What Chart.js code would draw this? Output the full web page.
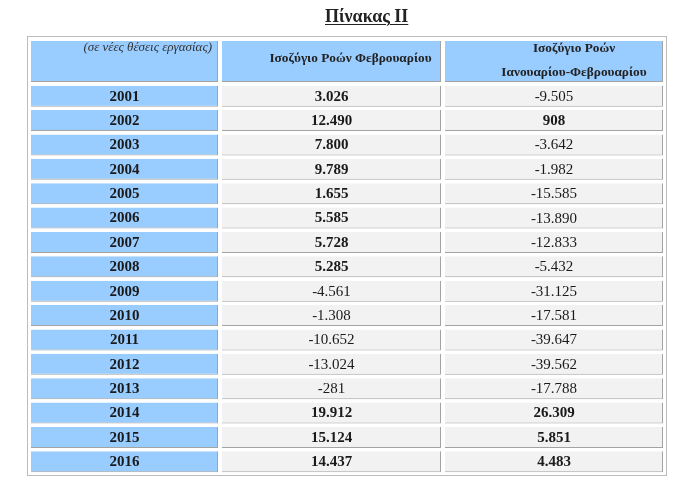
<!DOCTYPE html>
<html lang="el">
<head>
<meta charset="utf-8">
<title>Πίνακας ΙΙ</title>
<script src="https://cdn.jsdelivr.net/npm/chart.js@4.4.1/dist/chart.umd.min.js"></script>
<style>
    body { margin: 0; background: #fff; }
    #wrap { position: relative; width: 684px; height: 481px; }
    #title {
        position: absolute; left: 325px; top: 6px;
        font: bold 18px "Liberation Serif", "DejaVu Serif", serif;
        line-height: 20px; color: #222;
        text-decoration: underline; text-decoration-thickness: 1px;
        text-underline-offset: 2px;
    }
    canvas { display: block; }
</style>
</head>
<body>
<div id="wrap">
    <div id="title">Πίνακας ΙΙ</div>
    <canvas id="tableChart" width="684" height="481"></canvas>
</div>
<script>
// Δεδομένα πίνακα
const years = ['2001', '2002', '2003', '2004', '2005', '2006', '2007', '2008',
               '2009', '2010', '2011', '2012', '2013', '2014', '2015', '2016'];
const febBalance = [3026, 12490, 7800, 9789, 1655, 5585, 5728, 5285,
                    -4561, -1308, -10652, -13024, -281, 19912, 15124, 14437];
const janFebBalance = [-9505, 908, -3642, -1982, -15585, -13890, -12833, -5432,
                       -31125, -17581, -39647, -39562, -17788, 26309, 5851, 4483];
const headerNote = '(σε νέες θέσεις εργασίας)';
const headerFeb = ['Ισοζύγιο Ροών Φεβρουαρίου'];
const headerJanFeb = ['Ισοζύγιο Ροών', 'Ιανουαρίου-Φεβρουαρίου'];

// Διάταξη στηλών (πλάτη κελιών και κενό ανάμεσα)
const colWidths = [187, 219, 218];
const cellGap = 4;
const colStart = [];
const colEnd = [];
let acc = 0;
colWidths.forEach((w, i) => {
    colStart.push(acc);
    colEnd.push(acc + w);
    acc += w + (i < colWidths.length - 1 ? cellGap : 0);
});
const tableWidth = acc;

const BLUE = '#99ccff';
const GREY = '#f2f2f2';
const EDGE = '#a3a3a3';
const SERIF = '"Liberation Serif", "DejaVu Serif", serif';

// Μορφοποίηση αριθμών με τελεία χιλιάδων (ελληνικά)
function fmt(v) {
    const s = Math.abs(v).toString().replace(/\B(?=(\d{3})+(?!\d))/g, '.');
    return (v < 0 ? '-' : '') + s;
}

function drawCell(ctx, x0, y0, x1, y1, fill) {
    ctx.fillStyle = EDGE;
    ctx.fillRect(x0, y0, x1 - x0, y1 - y0);
    ctx.fillStyle = fill;
    ctx.fillRect(x0, y0, x1 - x0 - 1, y1 - y0 - 1);
}

const tablePlugin = {
    id: 'tableCells',
    beforeDatasetsDraw(chart) {
        const { ctx, chartArea } = chart;
        const x = chart.scales.x;
        const headTop = chartArea.top - 43;
        const headBottom = chartArea.top - 2;

        ctx.save();
        // εξωτερικό περίγραμμα
        ctx.strokeStyle = '#bcbcbc';
        ctx.lineWidth = 1;
        ctx.strokeRect(chartArea.left - 3.5, headTop - 4.5,
                       chartArea.right - chartArea.left + 7, chartArea.bottom - headTop + 6);

        // κελιά κεφαλίδας
        colWidths.forEach((w, i) => {
            drawCell(ctx, x.getPixelForValue(colStart[i]), headTop,
                     x.getPixelForValue(colEnd[i]), headBottom, BLUE);
        });
        ctx.restore();
    },
    afterDatasetsDraw(chart) {
        const { ctx, chartArea } = chart;
        const x = chart.scales.x;
        const y = chart.scales.y;
        const headTop = chartArea.top - 43;
        const mid = i => (x.getPixelForValue(colStart[i]) + x.getPixelForValue(colEnd[i])) / 2;

        ctx.save();
        ctx.textBaseline = 'middle';

        // κεφαλίδα
        ctx.fillStyle = '#333';
        ctx.textAlign = 'right';
        ctx.font = 'italic 13px ' + SERIF;
        ctx.fillText(headerNote, x.getPixelForValue(colEnd[0]) - 6, headTop + 7);

        ctx.fillStyle = '#222';
        ctx.textAlign = 'center';
        ctx.font = 'bold 13.3px ' + SERIF;
        ctx.fillText(headerFeb[0], mid(1) + 19, headTop + 18);
        headerJanFeb.forEach((line, k) => {
            ctx.fillText(line, mid(2) + 20, headTop + 7.5 + k * 24);
        });

        // γραμμές
        ctx.fillStyle = '#1a1a1a';
        years.forEach((yr, i) => {
            const py = y.getPixelForValue(i) + 0.5;
            ctx.font = 'bold 15px ' + SERIF;
            ctx.fillText(yr, mid(0), py);
            ctx.font = (febBalance[i] > 0 ? 'bold ' : '') + '15px ' + SERIF;
            ctx.fillText(fmt(febBalance[i]), mid(1), py);
            ctx.font = (janFebBalance[i] > 0 ? 'bold ' : '') + '15px ' + SERIF;
            ctx.fillText(fmt(janFebBalance[i]), mid(2), py);
        });
        ctx.restore();
    }
};

function cellDataset(col, color) {
    return {
        label: 'col' + col,
        data: years.map(() => [colStart[col], colEnd[col]]),
        backgroundColor: color,
        borderColor: EDGE,
        borderWidth: { top: 0, left: 0, right: 1, bottom: 1 },
        borderSkipped: false,
        grouped: false,
        categoryPercentage: 1,
        barPercentage: 0.86
    };
}

new Chart(document.getElementById('tableChart'), {
    type: 'bar',
    data: {
        labels: years,
        datasets: [cellDataset(0, BLUE), cellDataset(1, GREY), cellDataset(2, GREY)]
    },
    options: {
        indexAxis: 'y',
        responsive: false,
        animation: false,
        events: [],
        layout: { padding: { top: 84, bottom: 7, left: 31, right: 21 } },
        scales: {
            x: { type: 'linear', min: 0, max: tableWidth, display: false },
            y: { type: 'category', display: false }
        },
        plugins: {
            legend: { display: false },
            tooltip: { enabled: false },
            title: { display: false }
        }
    },
    plugins: [tablePlugin]
});
</script>
</body>
</html>
